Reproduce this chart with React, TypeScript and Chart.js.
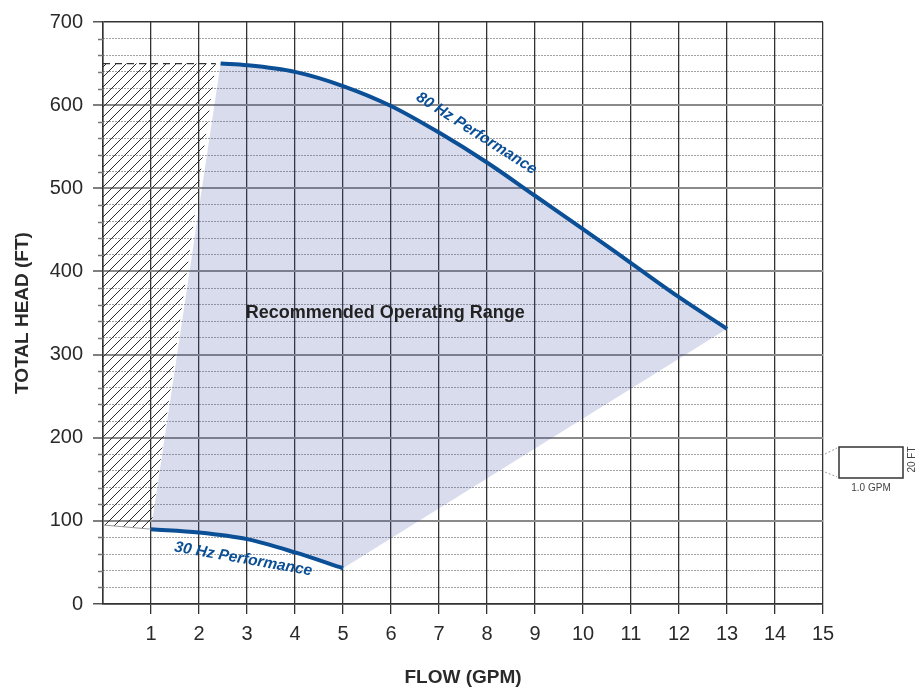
import React, { useEffect, useRef } from 'react';
import { Chart, registerables } from 'chart.js';

Chart.register(...registerables);

// ---- data ----
const FLOW_80 = [2.45, 3, 4, 5, 6, 7, 8, 9, 10, 11, 12, 13];
const HEAD_80 = [650, 648, 640, 623, 599, 567, 531, 491, 451, 410, 369, 331];
const FLOW_30 = [1, 2, 3, 4, 5];
const HEAD_30 = [90, 86, 78, 62, 43];
const HATCH_FLOW = [0, 2.35, 1, 0];
const HATCH_HEAD = [650, 650, 90, 95];
const HATCH_TOP_FLOW = [0, 2.35];
const HATCH_TOP_HEAD = [650, 650];
const HATCH_BOTTOM_FLOW = [0, 1];
const HATCH_BOTTOM_HEAD = [95, 90];
const X_MIN = 0;
const X_MAX = 15;
const Y_MIN = 0;
const Y_MAX = 700;
const Y_MINOR_STEP = 20;
const Y_MAJOR_STEP = 100;

const LABEL_80 = '80 Hz Performance';
const LABEL_80_POS = { x: 7.78, y: 566, angle: 32.5 };
const LABEL_30 = '30 Hz Performance';
const LABEL_30_POS = { x: 2.92, y: 54, angle: 10 };
const RANGE_LABEL = 'Recommended Operating Range';
const RANGE_LABEL_POS = { x: 5.88, y: 350 };
const X_TITLE = 'FLOW (GPM)';
const Y_TITLE = 'TOTAL HEAD (FT)';
const SCALE_BOX_X = '1.0 GPM';
const SCALE_BOX_Y = '20 FT';

const FONT = "'Liberation Sans', Arial, Helvetica, sans-serif";
const BLUE = '#0b4f96';

const pts = (xs: number[], ys: number[]) => xs.map((x, i) => ({ x, y: ys[i] }));

function makeHatch(): CanvasPattern | string {
  const s = 10;
  const c = document.createElement('canvas');
  c.width = s;
  c.height = s;
  const p = c.getContext('2d');
  if (!p) return 'rgba(0,0,0,0.1)';
  p.strokeStyle = '#2a2a2a';
  p.lineWidth = 1;
  p.beginPath();
  p.moveTo(-1, s + 1);
  p.lineTo(s + 1, -1);
  p.moveTo(-s / 2 - 1, s / 2 + 1);
  p.lineTo(s / 2 + 1, -s / 2 - 1);
  p.moveTo(s / 2 - 1, s * 1.5 + 1);
  p.lineTo(s * 1.5 + 1, s / 2 - 1);
  p.stroke();
  const pat = p.createPattern(c, 'repeat');
  return pat || 'rgba(0,0,0,0.1)';
}

const decorPlugin = {
  id: 'decor',
  afterDraw(chart: any) {
    const { ctx, chartArea, scales } = chart;
    const xs = scales.x;
    const ys = scales.y;
    ctx.save();
    // minor tick marks on y axis
    ctx.strokeStyle = '#777';
    ctx.lineWidth = 1.5;
    for (let v = Y_MIN; v <= Y_MAX; v += Y_MINOR_STEP) {
      if (v % Y_MAJOR_STEP === 0) continue;
      const py = Math.round(ys.getPixelForValue(v)) + 0.5;
      ctx.beginPath();
      ctx.moveTo(chartArea.left - 5, py);
      ctx.lineTo(chartArea.left, py);
      ctx.stroke();
    }
    // curve labels
    const drawRot = (text: string, pos: any, font: string, color: string) => {
      const px = xs.getPixelForValue(pos.x);
      const py = ys.getPixelForValue(pos.y);
      ctx.save();
      ctx.translate(px, py);
      ctx.rotate(((pos.angle || 0) * Math.PI) / 180);
      ctx.font = font;
      ctx.fillStyle = color;
      ctx.textAlign = 'center';
      ctx.textBaseline = 'middle';
      ctx.fillText(text, 0, 0);
      ctx.restore();
    };
    drawRot(LABEL_80, LABEL_80_POS, `italic bold 15.5px ${FONT}`, BLUE);
    drawRot(LABEL_30, LABEL_30_POS, `italic bold 15.5px ${FONT}`, BLUE);
    drawRot(RANGE_LABEL, RANGE_LABEL_POS, `bold 18px ${FONT}`, '#222');

    // scale inset box on the right
    const bx = chartArea.right + 16;
    const by = 447;
    const bw = 64;
    const bh = 31;
    ctx.strokeStyle = '#333';
    ctx.lineWidth = 1.5;
    ctx.strokeRect(bx, by, bw, bh);
    ctx.strokeStyle = '#999';
    ctx.lineWidth = 1;
    ctx.setLineDash([2, 2]);
    ctx.beginPath();
    ctx.moveTo(chartArea.right + 2, by + 7);
    ctx.lineTo(bx - 2, by + 1);
    ctx.moveTo(chartArea.right + 2, by + bh - 6);
    ctx.lineTo(bx - 2, by + bh - 1);
    ctx.stroke();
    ctx.setLineDash([]);
    ctx.fillStyle = '#444';
    ctx.font = `10px ${FONT}`;
    ctx.textAlign = 'center';
    ctx.textBaseline = 'middle';
    ctx.fillText(SCALE_BOX_X, bx + bw / 2, by + bh + 10);
    ctx.save();
    ctx.translate(bx + bw + 9, by + bh / 2 - 3);
    ctx.rotate(-Math.PI / 2);
    ctx.fillText(SCALE_BOX_Y, 0, 0);
    ctx.restore();
    ctx.restore();
  },
};

export default function App() {
  const ref = useRef<HTMLCanvasElement | null>(null);

  useEffect(() => {
    const canvas = ref.current;
    if (!canvas) return;
    const range = [...pts(FLOW_30, HEAD_30), ...pts(FLOW_80, HEAD_80).reverse(), { x: FLOW_30[0], y: HEAD_30[0] }];
    const hatch = [...pts(HATCH_FLOW, HATCH_HEAD), { x: HATCH_FLOW[0], y: HATCH_HEAD[0] }];
    const isMajor = (v: number) => Math.abs(v % Y_MAJOR_STEP) < 1e-6;

    const chart = new Chart(canvas, {
      type: 'line',
      data: {
        datasets: [
          {
            label: '80 Hz',
            data: pts(FLOW_80, HEAD_80),
            borderColor: BLUE,
            borderWidth: 4,
            pointRadius: 0,
            fill: false,
            cubicInterpolationMode: 'monotone',
            order: 0,
          },
          {
            label: '30 Hz',
            data: pts(FLOW_30, HEAD_30),
            borderColor: BLUE,
            borderWidth: 4,
            pointRadius: 0,
            fill: false,
            cubicInterpolationMode: 'monotone',
            order: 0,
          },
          {
            label: 'hatch top',
            data: pts(HATCH_TOP_FLOW, HATCH_TOP_HEAD),
            borderColor: '#333',
            borderWidth: 1.2,
            borderDash: [7, 5],
            pointRadius: 0,
            fill: false,
            order: 1,
          },
          {
            label: 'hatch bottom',
            data: pts(HATCH_BOTTOM_FLOW, HATCH_BOTTOM_HEAD),
            borderColor: '#999',
            borderWidth: 1,
            pointRadius: 0,
            fill: false,
            order: 1,
          },
          {
            label: 'hatch',
            data: hatch,
            borderWidth: 0,
            borderColor: 'rgba(0,0,0,0)',
            backgroundColor: makeHatch() as any,
            pointRadius: 0,
            fill: 'shape',
            tension: 0,
            order: 2,
          },
          {
            label: 'range',
            data: range,
            borderWidth: 0,
            borderColor: 'rgba(0,0,0,0)',
            backgroundColor: 'rgba(65,80,160,0.2)',
            pointRadius: 0,
            fill: 'shape',
            tension: 0,
            order: 3,
          },
        ],
      },
      options: {
        responsive: false,
        animation: false,
        events: [],
        layout: { padding: { top: 19, right: 95, left: 0, bottom: 0 } },
        plugins: {
          legend: { display: false },
          tooltip: { enabled: false },
        },
        scales: {
          x: {
            type: 'linear',
            min: X_MIN,
            max: X_MAX,
            afterFit: (s: any) => {
              s.height = 85;
            },
            ticks: {
              stepSize: 1,
              autoSkip: false,
              maxRotation: 0,
              padding: 8,
              color: '#2a2a2a',
              font: { family: FONT, size: 20 },
              callback: (v: any) => (v === 0 ? '' : String(v)),
            },
            grid: {
              color: '#333',
              lineWidth: 1.3,
              tickLength: 10,
              tickColor: (c: any) => (c.tick && c.tick.value === 0 ? 'rgba(0,0,0,0)' : '#333'),
            },
            border: { display: true, color: '#333', width: 1.5 },
            title: {
              display: true,
              text: X_TITLE,
              color: '#2a2a2a',
              font: { family: FONT, size: 19, weight: 'bold' },
              padding: { top: 0, bottom: 0 },
            },
          },
          y: {
            type: 'linear',
            min: Y_MIN,
            max: Y_MAX,
            afterFit: (s: any) => {
              s.width = 103;
            },
            ticks: {
              stepSize: Y_MINOR_STEP,
              autoSkip: false,
              padding: 10,
              color: '#2a2a2a',
              font: { family: FONT, size: 20 },
              callback: (v: any) => (isMajor(Number(v)) ? String(v) : ''),
            },
            grid: {
              color: (c: any) => {
                const v = c.tick ? c.tick.value : 0;
                if (v === Y_MIN || v === Y_MAX) return '#333';
                return isMajor(v) ? '#8a8a8a' : '#444';
              },
              lineWidth: (c: any) => {
                const v = c.tick ? c.tick.value : 0;
                if (v === Y_MIN || v === Y_MAX) return 1.5;
                return isMajor(v) ? 2 : 1;
              },
              tickLength: 10,
              tickColor: (c: any) => (c.tick && isMajor(c.tick.value) ? '#555' : 'rgba(0,0,0,0)'),
              tickWidth: 1.5,
            },
            border: {
              display: true,
              color: '#333',
              width: 1.5,
              dash: (c: any) => (c.tick && !isMajor(c.tick.value) ? [1, 2] : []),
            },
            title: {
              display: true,
              text: Y_TITLE,
              color: '#2a2a2a',
              font: { family: FONT, size: 19, weight: 'bold' },
              padding: { top: 11, bottom: 0 },
            },
          },
        },
      } as any,
      plugins: [decorPlugin],
    });
    return () => chart.destroy();
  }, []);

  return (
    <div style={{ position: 'absolute', left: 0, top: 0, width: 918, height: 689, background: '#fff' }}>
      <canvas ref={ref} width={918} height={689} style={{ display: 'block' }} />
    </div>
  );
}
